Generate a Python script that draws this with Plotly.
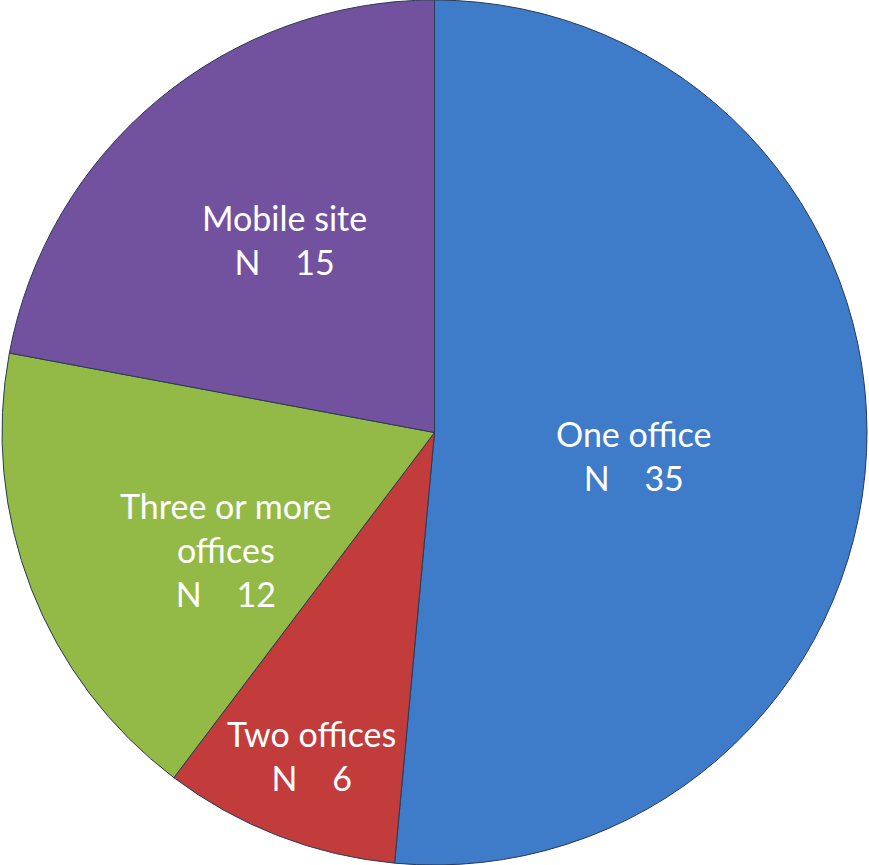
import plotly.graph_objects as go

categories = ["One office", "Two offices", "Three or more offices", "Mobile site"]
values = [35, 6, 12, 15]
label_lines = [["One office"], ["Two offices"], ["Three or more", "offices"], ["Mobile site"]]
colors = ["#3E7BC8", "#C23C3B", "#93BA46", "#72529F"]
label_pos = [(633, 455), (311, 755), (226, 549), (284, 240)]

W, H = 869, 865

fig = go.Figure(go.Pie(
    labels=categories,
    values=values,
    sort=False,
    direction="clockwise",
    rotation=0,
    textinfo="none",
    hoverinfo="label+value",
    marker=dict(colors=colors, line=dict(color="#2B3A55", width=1)),
    domain=dict(x=[0, 1], y=[0, 1]),
    showlegend=False,
))

for lines, v, (px, py) in zip(label_lines, values, label_pos):
    txt = "<br>".join(lines + [f"N    {v}"])
    fig.add_annotation(
        x=px / W, y=1 - py / H, xref="paper", yref="paper",
        xanchor="center", yanchor="middle",
        text=txt, showarrow=False, align="center",
        font=dict(family="Lato, Open Sans, sans-serif", size=34, color="white"),
    )

fig.update_layout(
    width=W, height=H,
    margin=dict(l=0, r=0, t=0, b=0),
    paper_bgcolor="white", plot_bgcolor="white",
)

fig.write_html("out.html", config={"displayModeBar": False},
               post_script="document.body.style.margin='0';")
